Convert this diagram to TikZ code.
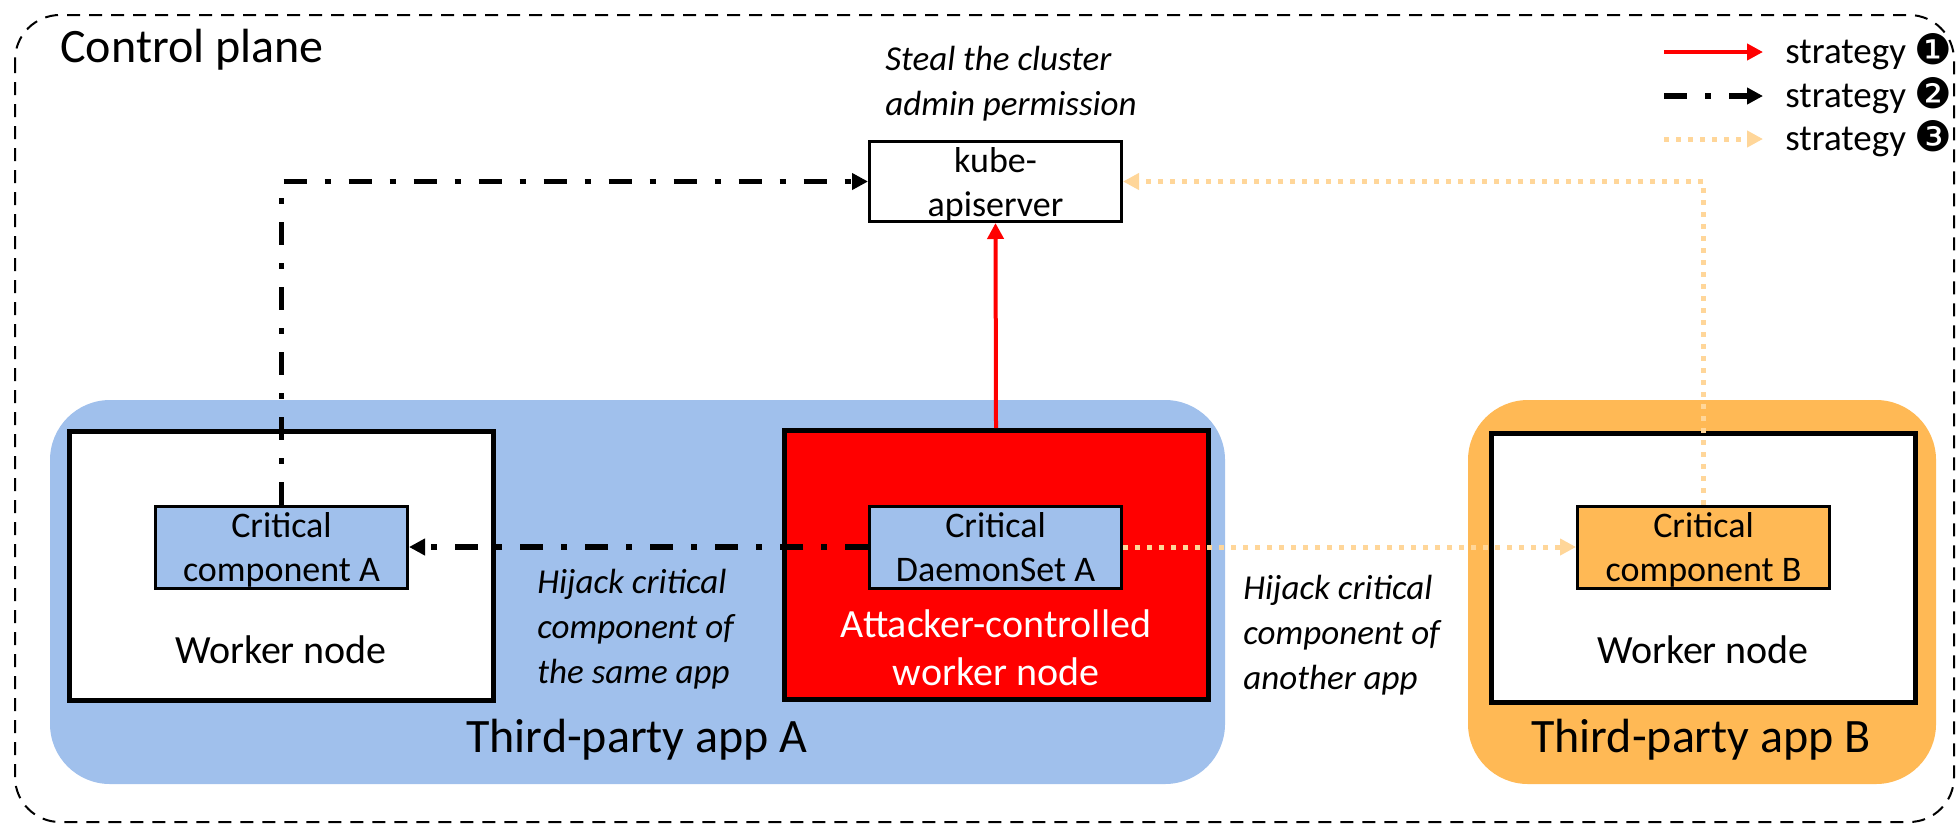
\documentclass[tikz,border=0pt]{standalone}
\usepackage{fontspec}
\setmainfont{Carlito}
\newfontfamily\dingfont{DejaVu Sans}
\usetikzlibrary{arrows.meta}

\definecolor{appblue}{RGB}{160,192,236}
\definecolor{apporange}{RGB}{255,185,85}
\definecolor{peach}{RGB}{255,214,153}

\begin{document}
\begin{tikzpicture}[x=0.5pt, y=-0.5pt,
  box/.style={draw, line width=1.5pt, minimum width=126pt, minimum height=41pt,
    align=center, inner sep=0pt, text depth=0pt, font=\fontsize{18}{22}\selectfont},
  worker/.style={draw, line width=2.5pt, minimum width=212pt, minimum height=134.5pt, inner sep=0pt},
  app/.style={rounded corners=30pt, minimum height=192pt, inner sep=0pt},
  note/.style={align=left, inner sep=0pt, font=\fontsize{17.5}{22.5}\selectfont\itshape},
  strat1/.style={red, line width=2pt, -{Triangle[length=8pt,width=8pt]}},
  strat2/.style={black, line width=2.75pt, dash pattern=on 11.5pt off 9pt on 3pt off 9pt,
    -{Triangle[length=8pt,width=8pt]}},
  strat3/.style={peach, line width=2.5pt, dash pattern=on 2.5pt off 3.5pt,
    -{Triangle[length=8pt,width=8pt]}}]
  \useasboundingbox (0,0) rectangle (1957,825);
  % Control plane frame
  \draw[line width=1pt, dash pattern=on 6.5pt off 4.5pt, rounded corners=22.5pt] (15,15) rectangle (1954,822);
  \node[anchor=base west, inner sep=0pt, font=\fontsize{24}{28}\selectfont] (cp) at (60,62) {Control plane};
  % Third-party apps
  \node[app, fill=appblue, minimum width=587.5pt] (appA) at (637.5,592) {};
  \node[app, fill=apporange, minimum width=234pt] (appB) at (1702,592) {};
  \node[font=\fontsize{24}{28}\selectfont] (appAlab) at (637,740) {Third-party app A};
  \node[font=\fontsize{24}{28}\selectfont] (appBlab) at (1701,740) {Third-party app B};
  % Worker nodes
  \node[worker, fill=white] (wA) at (281,566) {};
  \node[worker, fill=red] (atk) at (996,565) {};
  \node[worker, fill=white] (wB) at (1703,568) {};
  \node[font=\fontsize{20}{24}\selectfont] (wAlab) at (281,650) {Worker node};
  \node[font=\fontsize{20}{24}\selectfont] (wBlab) at (1703,650) {Worker node};
  \node[font=\fontsize{20}{24}\selectfont, text=white, align=center] (atklab) at (996,648) {Attacker-controlled\\worker node};
  % Critical components
  \node[box, fill=appblue] (critA) at (281.5,547) {Critical\\component A};
  \node[box, fill=appblue] (critD) at (995.5,547) {Critical\\DaemonSet A};
  \node[box, fill=apporange] (critB) at (1703.5,547) {Critical\\component B};
  \node[box, fill=white, minimum height=40pt, text depth=-3pt] (kube) at (995.5,181.5) {kube-\\apiserver};
  % Annotations
  \node[note, anchor=west] (steal) at (885,84) {Steal the cluster\\admin permission};
  \node[note, anchor=west] (hijA) at (537,629) {Hijack critical\\component of\\the same app};
  \node[note, anchor=west] (hijB) at (1243,635) {Hijack critical\\component of\\another app};
  % Attack paths
  \draw[strat1] (atk.north) -- (kube.south);
  \draw[strat2] (critD.west) -- (critA.east);
  \draw[strat2] (critA.north) |- (kube.west);
  \draw[strat3] (critD.east) -- (critB.west);
  \draw[strat3] (critB.north) |- (kube.east);
  % Legend
  \foreach \i/\y/\sty/\num in {1/52/strat1/❶, 2/96/strat2/❷, 3/139/strat3/❸} {
    \coordinate (leg\i s) at (1664,\y);
    \coordinate (leg\i e) at (1763,\y);
    \draw[\sty] (leg\i s) -- (leg\i e);
    \node[anchor=base west, inner sep=0pt, font=\fontsize{18.5}{21}\selectfont] (leg\i) at (1785,\y+11) {strategy {\dingfont\fontsize{21}{21}\selectfont\raisebox{-0.5pt}{\num}}};
  }
\end{tikzpicture}
\end{document}
